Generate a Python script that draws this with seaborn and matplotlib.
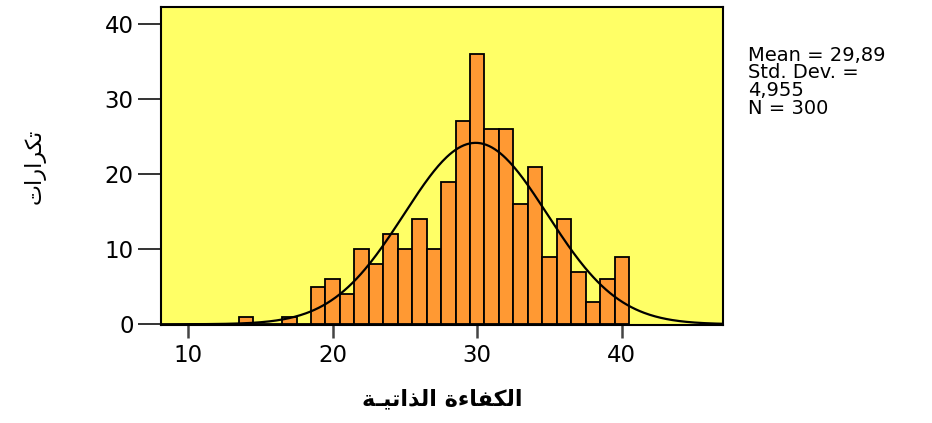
import numpy as np
import matplotlib
matplotlib.use("Agg")
import matplotlib.pyplot as plt
import seaborn as sns

# ---- data ----
scores = [14, 17, 19, 20, 21, 22, 23, 24, 25, 26, 27, 28, 29, 30,
          31, 32, 33, 34, 35, 36, 37, 38, 39, 40]
counts = [1, 1, 5, 6, 4, 10, 8, 12, 10, 14, 10, 19, 27, 36,
          26, 26, 16, 21, 9, 14, 7, 3, 6, 9]
mean_val = 29.89
sd_val = 4.955
n_total = 300
x_ticks = [10, 20, 30, 40]
y_ticks = [0, 10, 20, 30, 40]
x_label = "الكفاءة الذاتيـة"
y_label = "تكرارات"
stats_lines = ["Mean = 29,89", "Std. Dev. =", "4,955", "N = 300"]


# ---- minimal Arabic shaping (matplotlib has no complex text layout) ----
FORMS = {  # iso, fin, ini, med
    "\u0627": ("\uFE8D", "\uFE8E", None, None),
    "\u0621": ("\uFE80", None, None, None),
    "\u0629": ("\uFE93", "\uFE94", None, None),
    "\u0630": ("\uFEAB", "\uFEAC", None, None),
    "\u0631": ("\uFEAD", "\uFEAE", None, None),
    "\u0644": ("\uFEDD", "\uFEDE", "\uFEDF", "\uFEE0"),
    "\u0643": ("\uFED9", "\uFEDA", "\uFEDB", "\uFEDC"),
    "\u0641": ("\uFED1", "\uFED2", "\uFED3", "\uFED4"),
    "\u062A": ("\uFE95", "\uFE96", "\uFE97", "\uFE98"),
    "\u064A": ("\uFEF1", "\uFEF2", "\uFEF3", "\uFEF4"),
    "\u0640": ("\u0640", "\u0640", "\u0640", "\u0640"),
}


def dual(c):
    return c in FORMS and FORMS[c][2] is not None


def joins_right(c):
    return c in FORMS and FORMS[c][1] is not None


def shape(text):
    out = []
    for i, c in enumerate(text):
        if c not in FORMS:
            out.append(c)
            continue
        prev = text[i - 1] if i > 0 else ""
        nxt = text[i + 1] if i + 1 < len(text) else ""
        jp = bool(prev) and dual(prev) and joins_right(c)
        jn = bool(nxt) and dual(c) and joins_right(nxt)
        iso, fin, ini, med = FORMS[c]
        if jp and jn:
            out.append(med)
        elif jp:
            out.append(fin)
        elif jn:
            out.append(ini)
        else:
            out.append(iso)
    return "".join(out)[::-1]


sns.set_style("white")
plt.rcParams["font.family"] = ["DejaVu Sans"]

fig = plt.figure(figsize=(9.32, 4.23), dpi=100)
ax = fig.add_axes([0.1724, 0.2317, 0.6033, 0.751])
ax.set_facecolor("#FFFF66")

sns.histplot(x=scores, weights=counts, discrete=True, ax=ax,
             color="#FF9933", alpha=1.0, edgecolor="black", linewidth=1.3)

xs = np.linspace(8.1, 47.0, 400)
ys = n_total * np.exp(-0.5 * ((xs - mean_val) / sd_val) ** 2) / (sd_val * np.sqrt(2 * np.pi))
sns.lineplot(x=xs, y=ys, ax=ax, color="black", linewidth=1.6)

ax.set_xlim(8.1, 47.0)
ax.set_ylim(-0.1, 42.2)
ax.set_xticks(x_ticks)
ax.set_yticks(y_ticks)
ax.tick_params(axis="y", length=16.5, width=1.4, color="#333333", pad=3,
               labelsize=16.5, labelcolor="black", left=True)
ax.tick_params(axis="x", length=9.5, width=1.8, color="#444444", pad=4,
               labelsize=16.5, labelcolor="black", bottom=True)
for s in ax.spines.values():
    s.set_color("black")
    s.set_linewidth(1.5)

ax.set_xlabel(shape(x_label), fontsize=16, fontweight="bold", color="black",
              family=["DejaVu Sans"])
ax.xaxis.set_label_coords(0.5, -0.2)
ax.set_ylabel(shape(y_label), fontsize=16, color="black",
              family=["DejaVu Sans"])
ax.yaxis.set_label_coords(-0.205, 0.5)

fig.text(748 / 932, 1 - 46 / 423, "\n".join(stats_lines), fontsize=14,
         va="top", ha="left", linespacing=0.9, color="black")

fig.savefig("out.png", dpi=100, facecolor="white")
